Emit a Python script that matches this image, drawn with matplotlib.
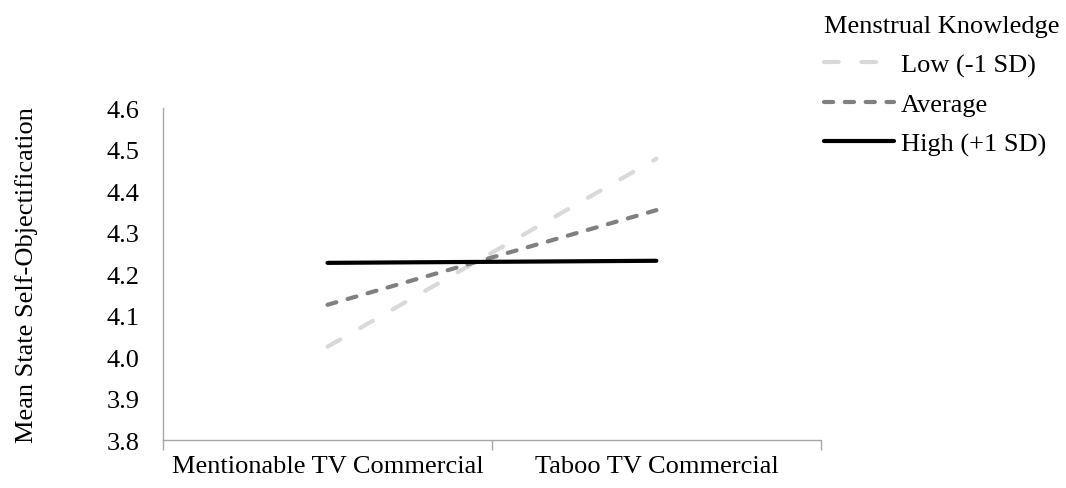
import matplotlib
matplotlib.use("Agg")
import matplotlib.pyplot as plt

# Simple-slopes plot: state self-objectification by ad condition and knowledge level
conditions = ["Mentionable TV Commercial", "Taboo TV Commercial"]
low_sd = [4.025, 4.478]
average = [4.126, 4.354]
high_sd = [4.227, 4.232]
series_names = ["Low (-1 SD)", "Average", "High (+1 SD)"]
yticks = [3.8, 3.9, 4.0, 4.1, 4.2, 4.3, 4.4, 4.5, 4.6]

plt.rcParams["font.family"] = ["Liberation Serif", "DejaVu Serif"]
FS = 19

fig = plt.figure(figsize=(10.66, 4.89), dpi=100)
ax = fig.add_axes([0.153, 0.098, 0.617, 0.679])

x = list(range(len(conditions)))
ax.plot(x, low_sd, color="#d9d9d9", lw=3.0, dashes=(3.5, 5.5),
        dash_capstyle="round", label=series_names[0])
ax.plot(x, average, color="#808080", lw=3.0, dashes=(2.2, 2.8),
        dash_capstyle="round", label=series_names[1])
ax.plot(x, high_sd, color="black", lw=3.0, solid_capstyle="round",
        label=series_names[2])

ax.set_xlim(-0.5, 1.5)
ax.set_ylim(3.8, 4.6)
ax.set_yticks(yticks)
ax.set_yticklabels([f"{v:.1f}" for v in yticks], fontsize=FS)
ax.tick_params(axis="y", length=0, pad=17)

ax.set_xticks(x)
ax.set_xticklabels(conditions, fontsize=FS)
ax.set_xticks([-0.5, 0.5, 1.5], minor=True)
ax.tick_params(axis="x", which="major", length=0, pad=11)
ax.tick_params(axis="x", which="minor", length=7, color="#a6a6a6", width=1)

for side in ("top", "right"):
    ax.spines[side].set_visible(False)
for side in ("left", "bottom"):
    ax.spines[side].set_color("#a6a6a6")
    ax.spines[side].set_linewidth(1)

ax.set_ylabel("Mean State Self-Objectification", fontsize=FS, labelpad=49)

leg = fig.legend(title="Menstrual Knowledge", loc="upper left",
                 bbox_to_anchor=(0.751, 1.016), frameon=False, fontsize=FS,
                 title_fontsize=FS, handlelength=2.65, handletextpad=0.25,
                 labelspacing=0.6)
leg._legend_box.align = "left"

fig.savefig("out.png", dpi=100)
